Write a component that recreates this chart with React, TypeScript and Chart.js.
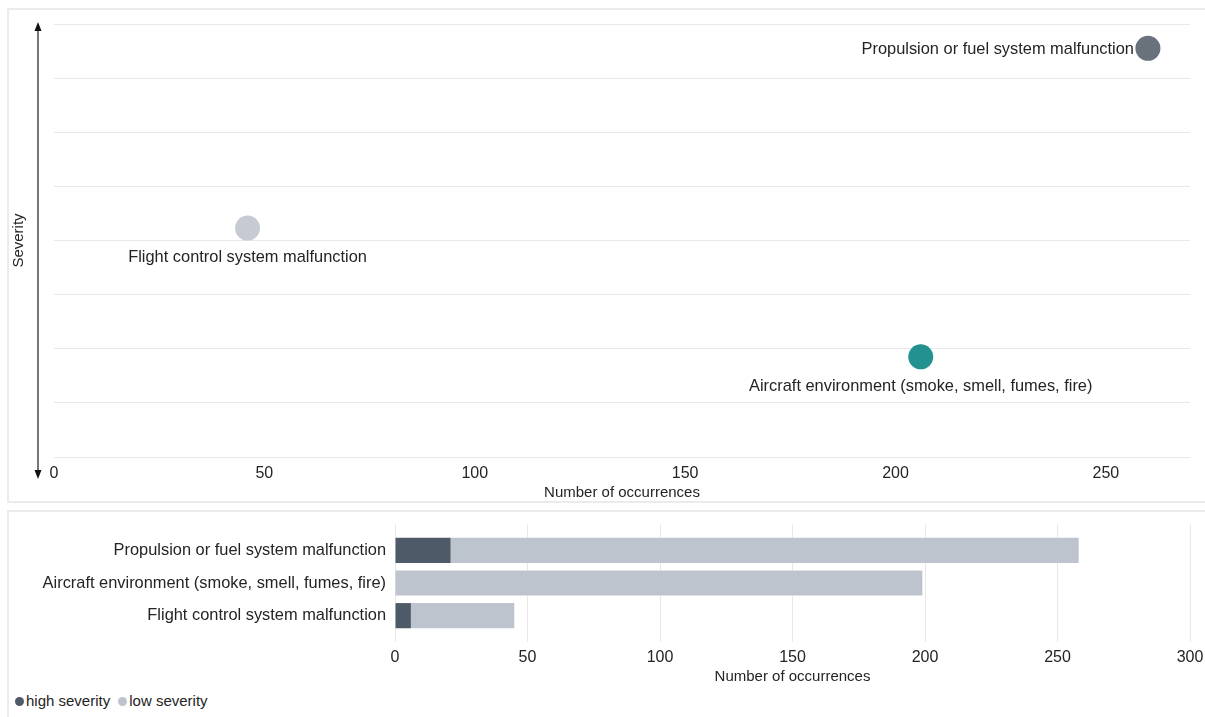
import React, { useEffect, useRef } from "react";
import { Chart, registerables } from "chart.js";

Chart.register(...registerables);

const FONT = '"Liberation Sans", Arial, Helvetica, sans-serif';
const TEXT = "#252423";
const GRID = "#e9e9e9";

// ---- Top chart: severity vs number of occurrences ----
const scatterLabels = [
  "Propulsion or fuel system malfunction",
  "Flight control system malfunction",
  "Aircraft environment (smoke, smell, fumes, fire)",
];
const scatterOccurrences = [260, 46, 206];
const scatterSeverity = [7.55, 4.23, 1.85];
const scatterColors = ["#69717d", "#c6cad3", "#23918f"];
const scatterLabelPlacement = ["left", "below", "below"];
const severityMin = 0;
const severityMax = 8;
const occurrencesMaxTop = 270;
const occurrencesStep = 50;

// ---- Bottom chart: stacked bars ----
const barCategories = [
  "Propulsion or fuel system malfunction",
  "Aircraft environment (smoke, smell, fumes, fire)",
  "Flight control system malfunction",
];
const highSeverity = [21, 0, 6];
const lowSeverity = [237, 199, 39];
const seriesNames = ["high severity", "low severity"];
const seriesColors = ["#4f5a69", "#bec4cd"];
const occurrencesMaxBottom = 300;
const axisTitle = "Number of occurrences";
const severityTitle = "Severity";

Chart.defaults.font.family = FONT;
Chart.defaults.color = TEXT;

const pointLabelPlugin = {
  id: "pointLabels",
  afterDatasetsDraw(chart: any) {
    const ctx = chart.ctx;
    const meta = chart.getDatasetMeta(0);
    ctx.save();
    ctx.font = `16.4px ${FONT}`;
    ctx.fillStyle = TEXT;
    ctx.textBaseline = "middle";
    meta.data.forEach((el: any, i: number) => {
      const { x, y } = el.getProps(["x", "y"], true);
      const r = el.options.radius || 12.5;
      if (scatterLabelPlacement[i] === "left") {
        ctx.textAlign = "right";
        ctx.fillText(scatterLabels[i], x - r - 1.5, y + 1);
      } else {
        ctx.textAlign = "center";
        ctx.fillText(scatterLabels[i], x, y + 29.5);
      }
    });
    ctx.restore();
  },
};

const severityArrowPlugin = {
  id: "severityArrow",
  afterDraw(chart: any) {
    const { ctx, chartArea } = chart;
    const x = chartArea.left - 16;
    const top = chartArea.top - 2;
    const bottom = chartArea.bottom + 22;
    ctx.save();
    ctx.strokeStyle = "#4a4a4a";
    ctx.lineWidth = 1.5;
    ctx.beginPath();
    ctx.moveTo(x, top + 6);
    ctx.lineTo(x, bottom - 6);
    ctx.stroke();
    ctx.fillStyle = "#111";
    ctx.beginPath();
    ctx.moveTo(x, top);
    ctx.lineTo(x - 3.5, top + 9);
    ctx.lineTo(x + 3.5, top + 9);
    ctx.closePath();
    ctx.fill();
    ctx.beginPath();
    ctx.moveTo(x, bottom);
    ctx.lineTo(x - 3.5, bottom - 9);
    ctx.lineTo(x + 3.5, bottom - 9);
    ctx.closePath();
    ctx.fill();
    ctx.restore();
  },
};

export default function App() {
  const topRef = useRef<HTMLCanvasElement>(null);
  const bottomRef = useRef<HTMLCanvasElement>(null);

  useEffect(() => {
    const top = new Chart(topRef.current as HTMLCanvasElement, {
      type: "scatter",
      data: {
        datasets: [
          {
            data: scatterOccurrences.map((x, i) => ({ x, y: scatterSeverity[i] })),
            pointBackgroundColor: scatterColors,
            pointBorderColor: scatterColors,
            backgroundColor: scatterColors,
            pointRadius: 12.5,
            pointBorderWidth: 0,
          } as any,
        ],
      },
      options: {
        responsive: false,
        animation: false,
        layout: { padding: { left: 8, top: 24, right: 15, bottom: 0 } },
        plugins: { legend: { display: false }, tooltip: { enabled: false } },
        scales: {
          x: {
            type: "linear",
            min: 0,
            max: occurrencesMaxTop,
            ticks: { stepSize: occurrencesStep, includeBounds: false, padding: 7, color: TEXT, font: { size: 16 } },
            grid: { display: false, drawTicks: false },
            border: { display: false },
            title: { display: true, text: axisTitle, color: TEXT, font: { size: 15 }, padding: { top: 0, bottom: 1 } },
            afterFit: (s: any) => {
              s.height = 46;
              s.paddingRight = 0;
              s.paddingLeft = 0;
            },
          },
          y: {
            min: severityMin,
            max: severityMax,
            ticks: { display: false, stepSize: 1 },
            grid: { color: GRID, drawTicks: false },
            border: { display: false },
            title: { display: true, text: severityTitle, color: TEXT, font: { size: 15 }, padding: { top: 2, bottom: 0 } },
            afterFit: (s: any) => {
              s.width = 46;
            },
          },
        },
      } as any,
      plugins: [pointLabelPlugin, severityArrowPlugin],
    });

    const bottom = new Chart(bottomRef.current as HTMLCanvasElement, {
      type: "bar",
      data: {
        labels: barCategories,
        datasets: [
          { label: seriesNames[0], data: highSeverity, backgroundColor: seriesColors[0], barPercentage: 0.77, categoryPercentage: 1 },
          { label: seriesNames[1], data: lowSeverity, backgroundColor: seriesColors[1], barPercentage: 0.77, categoryPercentage: 1 },
        ],
      },
      options: {
        indexAxis: "y",
        responsive: false,
        animation: false,
        layout: { padding: { top: 19, right: 15, bottom: 0, left: 0 } },
        plugins: { legend: { display: false }, tooltip: { enabled: false } },
        scales: {
          x: {
            type: "linear",
            position: "bottom",
            stacked: true,
            min: 0,
            max: occurrencesMaxBottom,
            ticks: { stepSize: occurrencesStep, padding: 6, color: TEXT, font: { size: 16 } },
            grid: { color: GRID, drawTicks: true, tickLength: 10 },
            border: { display: false },
            title: { display: true, text: axisTitle, color: TEXT, font: { size: 15 }, padding: { top: 0, bottom: 1 } },
            afterFit: (s: any) => {
              s.height = 55;
              s.paddingRight = 0;
              s.paddingLeft = 0;
            },
          },
          xTop: {
            type: "linear",
            position: "top",
            min: 0,
            max: occurrencesMaxBottom,
            ticks: { display: false, stepSize: occurrencesStep },
            grid: { color: GRID, drawOnChartArea: false, drawTicks: true, tickLength: 10 },
            border: { display: false },
            afterFit: (s: any) => {
              s.height = 10;
              s.paddingRight = 0;
              s.paddingLeft = 0;
            },
          },
          y: {
            stacked: true,
            grid: { display: false, drawTicks: false },
            border: { display: false },
            ticks: { padding: 9, color: TEXT, font: { size: 16.4 } },
            afterFit: (s: any) => {
              s.width = 395;
            },
          },
        },
      } as any,
    });

    return () => {
      top.destroy();
      bottom.destroy();
    };
  }, []);

  const panel: React.CSSProperties = {
    position: "absolute",
    boxSizing: "border-box",
    border: "2px solid #ebebeb",
    background: "#fff",
  };

  return (
    <div
      style={{
        position: "fixed",
        left: 0,
        top: 0,
        width: 1205,
        height: 717,
        overflow: "hidden",
        background: "#fff",
        fontFamily: FONT,
      }}
    >
      <div style={{ ...panel, left: 7, top: 8, width: 1215, height: 495 }} />
      <div style={{ ...panel, left: 7, top: 510, width: 1215, height: 230 }} />
      <canvas
        ref={topRef}
        width={1205}
        height={503}
        style={{ position: "absolute", left: 0, top: 0, display: "block" }}
      />
      <canvas
        ref={bottomRef}
        width={1205}
        height={182}
        style={{ position: "absolute", left: 0, top: 505, display: "block" }}
      />
      <div
        style={{
          position: "absolute",
          left: 15,
          top: 692,
          display: "flex",
          alignItems: "center",
          fontSize: 15,
          color: TEXT,
          lineHeight: "18px",
        }}
      >
        {seriesNames.map((name, i) => (
          <span key={name} style={{ display: "flex", alignItems: "center", marginRight: 8 }}>
            <span
              style={{
                display: "inline-block",
                width: 9,
                height: 9,
                borderRadius: "50%",
                background: seriesColors[i],
                marginRight: 2,
              }}
            />
            {name}
          </span>
        ))}
      </div>
    </div>
  );
}
